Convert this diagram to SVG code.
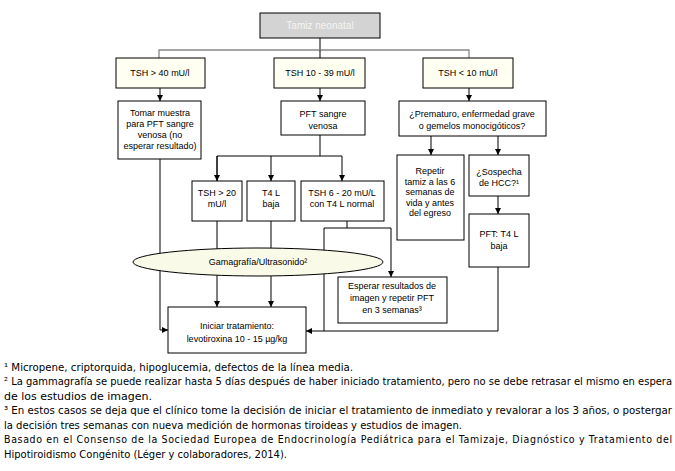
<svg xmlns="http://www.w3.org/2000/svg" width="675" height="471" viewBox="0 0 675 471">
<style>
.b{fill:#ffffff;stroke:#000;stroke-width:1}
.c{fill:#fffff2;stroke:#000;stroke-width:1}
.t{font-family:"Liberation Sans",Arial,sans-serif;font-size:9px;fill:#000;text-anchor:middle}
.l{fill:none;stroke:#000;stroke-width:1}
.g{fill:none;stroke:#888;stroke-width:1.3}
.f{font-family:"DejaVu Sans Condensed","DejaVu Sans","Liberation Sans",sans-serif;font-size:10.5px;fill:#000}
</style>
<defs>
<marker id="a" viewBox="0 0 8 8" refX="8" refY="4" markerWidth="6" markerHeight="6" orient="auto" markerUnits="userSpaceOnUse"><path d="M0,0L8,4L0,8z" fill="#000"/></marker>
</defs>
<rect width="675" height="471" fill="#fff"/>
<g id="connectors">
<line class="l" x1="320" y1="38" x2="320" y2="50"/>
<polyline class="g" points="159,58 159,50 469,50 469,58"/>
<line class="l" x1="320" y1="50" x2="320" y2="58"/>
<line class="l" x1="160" y1="88" x2="160" y2="101" marker-end="url(#a)"/>
<line class="l" x1="320" y1="88" x2="320" y2="101" marker-end="url(#a)"/>
<line class="l" x1="469" y1="88" x2="469" y2="101" marker-end="url(#a)"/>
<line class="l" x1="320" y1="135" x2="320" y2="156"/>
<polyline class="l" points="217,181 217,156 342,156 342,181" marker-end="url(#a)"/>
<line class="l" x1="217" y1="156" x2="217" y2="181" marker-end="url(#a)"/>
<line class="l" x1="271" y1="156" x2="271" y2="181" marker-end="url(#a)"/>
<line class="l" x1="431" y1="136" x2="431" y2="155" marker-end="url(#a)"/>
<line class="l" x1="498" y1="136" x2="498" y2="155" marker-end="url(#a)"/>
<line class="l" x1="498" y1="196" x2="498" y2="214" marker-end="url(#a)"/>
<line class="l" x1="217" y1="221" x2="217" y2="250"/>
<line class="l" x1="271" y1="221" x2="271" y2="250"/>
<line class="l" x1="217" y1="275" x2="217" y2="307" marker-end="url(#a)"/>
<line class="l" x1="271" y1="275" x2="271" y2="307" marker-end="url(#a)"/>
<polyline class="l" points="160,159 160,330 168,330" marker-end="url(#a)"/>
<line class="l" x1="347" y1="221" x2="347" y2="228"/>
<polyline class="l" points="324,331 324,228 391,228 391,277" marker-end="url(#a)"/>
<polyline class="l" points="498,267 498,331 306,331" marker-end="url(#a)"/>
</g>
<g id="n_tamiz"><rect x="260" y="13" width="120" height="25" fill="#d3d3d3" stroke="#000"/><text class="t" x="320" y="29" style="fill:#f4f4f4;font-size:10px">Tamiz neonatal</text></g>
<g id="n_tsh40"><rect class="c" x="116" y="58" width="89" height="30"/><text class="t" x="160" y="76">TSH &gt; 40 mU/l</text></g>
<g id="n_tsh1039"><rect class="c" x="274" y="58" width="91" height="30"/><text class="t" x="320" y="76">TSH 10 - 39 mU/l</text></g>
<g id="n_tsh10"><rect class="c" x="423" y="58" width="90" height="30"/><text class="t" x="468" y="76">TSH &lt; 10 mU/l</text></g>
<g id="n_tomar"><rect class="b" x="118" y="101" width="83" height="58"/><text class="t" x="160"><tspan x="160" y="116">Tomar muestra</tspan><tspan x="160" y="127">para PFT sangre</tspan><tspan x="160" y="138">venosa (no</tspan><tspan x="160" y="149">esperar resultado)</tspan></text></g>
<g id="n_pft"><rect class="b" x="281" y="101" width="84" height="34"/><text class="t"><tspan x="323" y="117">PFT sangre</tspan><tspan x="323" y="129">venosa</tspan></text></g>
<g id="n_prem"><rect class="b" x="399" y="101" width="147" height="35"/><text class="t"><tspan x="472" y="117">¿Prematuro, enfermedad grave</tspan><tspan x="472" y="129">o gemelos monocigóticos?</tspan></text></g>
<g id="n_tsh20"><rect class="b" x="192" y="181" width="50" height="40"/><text class="t"><tspan x="217" y="196">TSH &gt; 20</tspan><tspan x="217" y="207">mU/l</tspan></text></g>
<g id="n_t4l"><rect class="b" x="247" y="181" width="48" height="40"/><text class="t"><tspan x="271" y="196">T4 L</tspan><tspan x="271" y="207">baja</tspan></text></g>
<g id="n_tsh620"><rect class="b" x="301" y="181" width="83" height="40"/><text class="t"><tspan x="342" y="196">TSH 6 - 20 mU/L</tspan><tspan x="342" y="207">con T4 L normal</tspan></text></g>
<g id="n_repetir"><rect class="b" x="397" y="155" width="67" height="85"/><text class="t"><tspan x="430" y="174">Repetir</tspan><tspan x="430" y="184.5">tamiz a las 6</tspan><tspan x="430" y="195">semanas de</tspan><tspan x="430" y="205.5">vida y antes</tspan><tspan x="430" y="216">del egreso</tspan></text></g>
<g id="n_sosp"><rect class="b" x="469" y="155" width="60" height="41"/><text class="t"><tspan x="499" y="175">¿Sospecha</tspan><tspan x="499" y="186">de HCC?¹</tspan></text></g>
<g id="n_pftt4"><rect class="b" x="469" y="214" width="60" height="53"/><text class="t"><tspan x="499" y="237">PFT: T4 L</tspan><tspan x="499" y="249">baja</tspan></text></g>
<g id="n_gama"><ellipse cx="258" cy="262" rx="125" ry="14" fill="#fafae8" stroke="#000"/><text class="t" x="258" y="265">Gamagrafía/Ultrasonido²</text></g>
<g id="n_esperar"><rect class="b" x="338" y="277" width="109" height="46"/><text class="t"><tspan x="392" y="289">Esperar resultados de</tspan><tspan x="392" y="301">imagen y repetir PFT</tspan><tspan x="392" y="313">en 3 semanas³</tspan></text></g>
<g id="n_iniciar"><rect class="b" x="168" y="307" width="138" height="46"/><text class="t"><tspan x="237" y="329">Iniciar tratamiento:</tspan><tspan x="237" y="342">levotiroxina 10 - 15 µg/kg</tspan></text></g>
<g id="notes">
<text class="f" x="4" y="371" textLength="349" lengthAdjust="spacingAndGlyphs">¹ Micropene, criptorquida, hipoglucemia, defectos de la línea media.</text>
<text class="f" x="4" y="385" textLength="668" lengthAdjust="spacingAndGlyphs">² La gammagrafía se puede realizar hasta 5 días después de haber iniciado tratamiento, pero no se debe retrasar el mismo en espera</text>
<text class="f" x="4" y="400" textLength="148" lengthAdjust="spacingAndGlyphs">de los estudios de imagen.</text>
<text class="f" x="4" y="414" textLength="668" lengthAdjust="spacingAndGlyphs">³ En estos casos se deja que el clínico tome la decisión de iniciar el tratamiento de inmediato y revalorar a los 3 años, o postergar</text>
<text class="f" x="4" y="429" textLength="458" lengthAdjust="spacingAndGlyphs">la decisión tres semanas con nueva medición de hormonas tiroideas y estudios de imagen.</text>
<text class="f" x="4" y="443" textLength="668" lengthAdjust="spacing">Basado en el Consenso de la Sociedad Europea de Endocrinología Pediátrica para el Tamizaje, Diagnóstico y Tratamiento del</text>
<text class="f" x="4" y="458" textLength="283" lengthAdjust="spacingAndGlyphs">Hipotiroidismo Congénito (Léger y colaboradores, 2014).</text>
</g>
</svg>
